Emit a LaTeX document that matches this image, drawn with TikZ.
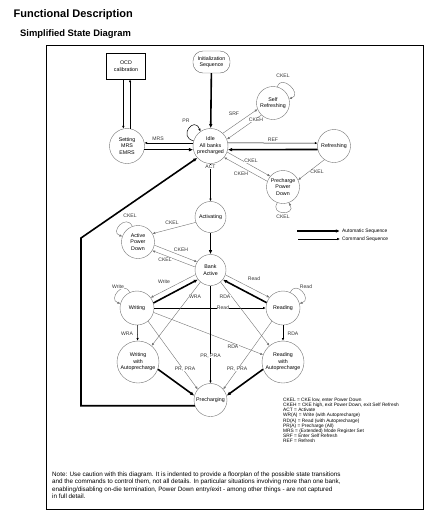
\documentclass[tikz,border=0pt]{standalone}
\usepackage{fontspec}
\setmainfont{Liberation Sans}
\usepackage{tikz}
\usetikzlibrary{positioning,arrows.meta}
\newcommand{\nodefont}{\fontsize{5.3}{6.4}\selectfont}
\newcommand{\lblfont}{\fontsize{5.1}{6}\selectfont}
\tikzset{
  autoarrow/.style={-{Latex[length=4.2pt,width=3.6pt]}, line width=1.6pt},
  cmdarrow/.style={-{Latex[length=2.8pt,width=2.4pt]}, line width=0.5pt},
  liteline/.style={-{Latex[length=2.8pt,width=2.4pt]}, line width=0.4pt, draw=black!55},
  stnode/.style={circle, draw=black!55, line width=0.4pt, inner sep=0pt, align=center, font=\nodefont},
  initbox/.style={draw=black!60, rounded corners=10pt, line width=0.4pt, minimum width=37pt, minimum height=22pt, align=center, font=\nodefont},
  calbox/.style={draw, line width=0.7pt, minimum width=39pt, minimum height=26pt, align=center, font=\nodefont},
  cmdlabel/.style={font=\lblfont, text=black!80, fill=white, inner sep=0.4pt},
  legendtext/.style={font=\fontsize{4.9}{5.5}\selectfont, inner sep=2pt}
}

\begin{document}
\begin{tikzpicture}[x=1pt, y=-1pt, >=Latex, every node/.style={font=\nodefont}]
  \useasboundingbox (0,0) rectangle (437,520);
  \node[anchor=base west, font=\bfseries\fontsize{11}{13}\selectfont, inner sep=0pt] (title) at (13.5,17) {Functional Description};
  \node[anchor=base west, font=\bfseries\fontsize{9.4}{11}\selectfont, inner sep=0pt] (subtitle) at (20,36) {Simplified State Diagram};
  \draw[line width=0.7pt] (46.5,45) rectangle (423,509);

  % states
  \node[initbox] (init) at (211.5,62) {Initialization\\Sequence};
  \node[calbox] (ocd) at (126,66) {OCD\\calibration};
  \node[stnode, minimum size=35pt] (mrs) at (127,146) {Setting\\MRS\\EMRS};
  \node[stnode, minimum size=35pt] (idle) at (210.5,146) {Idle\\All banks\\precharged};
  \node[stnode, minimum size=33pt] (selfref) at (273,103) {Self\\Refreshing};
  \node[stnode, minimum size=33pt] (refr) at (334,146) {Refreshing};
  \node[stnode, minimum size=33pt] (ppd) at (283,187) {Precharge\\Power\\Down};
  \node[stnode, minimum size=31pt] (actv) at (210.5,217) {Activating};
  \node[stnode, minimum size=33pt] (apd) at (138,242) {Active\\Power\\Down};
  \node[stnode, minimum size=31pt] (bank) at (210.5,270) {Bank\\Active};
  \node[stnode, minimum size=34pt] (wr) at (137,308) {Writing};
  \node[stnode, minimum size=34pt] (rd) at (283,308) {Reading};
  \node[stnode, minimum size=42pt] (wrap) at (138,362) {Writing\\with\\Autoprecharge};
  \node[stnode, minimum size=42pt] (rdap) at (283,362) {Reading\\with\\Autoprecharge};
  \node[stnode, minimum size=33pt] (prech) at (210.5,400) {Precharging};

  % automatic sequences
  \draw[autoarrow] (init) -- (idle);
  \draw[autoarrow] (mrs.-12) -- (idle.192);
  \draw[autoarrow] (refr.192) -- (idle.-12);
  \draw[autoarrow] (actv) -- (bank);
  \draw[autoarrow] (wr.17) -- (bank.217);
  \draw[autoarrow] (rd.162) -- (bank.-38);
  \draw[autoarrow] (wrap.-20) -- (prech.165);
  \draw[autoarrow] (rdap.200) -- (prech.15);
  \coordinate (retbend) at (81,238);
  \draw[autoarrow] (prech.200) -| (retbend) -- (idle.222);

  % command sequences
  \draw[cmdarrow] (idle.170) -- (mrs.10);
  \draw[cmdarrow] (ocd.south -| mrs.102) -- (mrs.102);
  \draw[cmdarrow] (mrs.80) -- (mrs.80 |- ocd.south);
  \draw[cmdarrow] (idle.163) .. controls +(-16,-4) and +(-6,-16) .. (idle.125);
  \draw[liteline] (idle.46) -- (selfref.202);
  \draw[liteline] (selfref.226) -- (idle.22);
  \draw[liteline] (selfref.75) .. controls +(4,-14) and +(14,-4) .. (selfref.15);
  \draw[cmdarrow] (idle.10) -- (refr.170);
  \draw[liteline] (idle.-20) -- (ppd.140);
  \draw[liteline] (ppd.160) -- (idle.-40);
  \draw[liteline] (refr.235) -- (ppd.25);
  \draw[liteline] (ppd.250) .. controls +(-8,13) and +(8,13) .. (ppd.290);
  \draw[cmdarrow] (idle) -- (actv);
  \draw[liteline] (actv.200) -- (apd.30);
  \draw[liteline] (apd.110) .. controls +(-6,-13) and +(-13,-4) .. (apd.160);
  \draw[liteline] (apd.-11) -- (bank.149);
  \draw[liteline] (bank.169) -- (apd.-31);
  \draw[liteline] (bank.197) -- (wr.37);
  \draw[liteline] (bank.-18) -- (rd.142);
  \draw[liteline] (wr.115) .. controls +(-6,-13) and +(-13,-4) .. (wr.165);
  \draw[liteline] (rd.65) .. controls +(6,-13) and +(13,-4) .. (rd.15);
  \draw[cmdarrow] (wr) -- (rd);
  \draw[cmdarrow] (wr) -- (wrap);
  \draw[cmdarrow] (rd) -- (rdap);
  \draw[liteline] (bank.230) -- (wrap.50);
  \draw[liteline] (bank.-50) -- (rdap.130);
  \draw[liteline] (wr.-15) -- (rdap.160);
  \draw[liteline] (wr.-50) -- (prech.140);
  \draw[liteline] (rd.230) -- (prech.40);
  \draw[cmdarrow] (bank) -- (prech);

  % labels
  \node[cmdlabel] (lpr) at (186,121) {PR};
  \node[cmdlabel] (lmrs) at (158,139) {MRS};
  \node[cmdlabel] (lsrf) at (234,114) {SRF};
  \node[cmdlabel] (lckehs) at (256,120) {CKEH};
  \node[cmdlabel] (lckels) at (283,76) {CKEL};
  \node[cmdlabel] (lref) at (273,140) {REF};
  \node[cmdlabel] (lckelp) at (251,161) {CKEL};
  \node[cmdlabel] (lckehp) at (241,174) {CKEH};
  \node[cmdlabel] (lckelr) at (317,172) {CKEL};
  \node[cmdlabel] (lckelpd) at (283,217) {CKEL};
  \node[cmdlabel] (lact) at (210.5,167) {ACT};
  \node[cmdlabel] (lckela) at (172,223) {CKEL};
  \node[cmdlabel] (lckelad) at (130,216) {CKEL};
  \node[cmdlabel] (lckehb) at (181,250) {CKEH};
  \node[cmdlabel] (lckelb) at (165,260) {CKEL};
  \node[cmdlabel] (lwrite) at (164,282) {Write};
  \node[cmdlabel] (lread) at (254,279) {Read};
  \node[cmdlabel] (lwloop) at (118,287) {Write};
  \node[cmdlabel] (lrloop) at (306,287) {Read};
  \node[cmdlabel] (lwrab) at (195,297) {WRA};
  \node[cmdlabel] (lrdab) at (225,297) {RDA};
  \node[cmdlabel] (lrdwr) at (223,308) {Read};
  \node[cmdlabel] (lwra) at (127,334) {WRA};
  \node[cmdlabel] (lrda) at (293,334) {RDA};
  \node[cmdlabel] (lrdaw) at (233,347) {RDA};
  \node[cmdlabel] (lprb) at (210.5,356) {PR, PRA};
  \node[cmdlabel] (lprw) at (185,369) {PR, PRA};
  \node[cmdlabel] (lprr) at (237,369) {PR, PRA};

  % legend
  \coordinate (autostart) at (297,231);
  \coordinate (cmdstart) at (298,239);
  \node[legendtext, anchor=west] (autolegend) at (340,231) {Automatic Sequence};
  \node[legendtext, anchor=west] (cmdlegend) at (340,239) {Command Sequence};
  \draw[autoarrow, line width=1.4pt] (autostart) -- (autolegend.west);
  \draw[cmdarrow] (cmdstart) -- (cmdlegend.west);

  \node[anchor=north west, align=left, inner sep=0pt, font=\fontsize{4.8}{5.1}\selectfont] (abbrev) at (283,398)
    {CKEL = CKE low, enter Power Down\\
     CKEH = CKE high, exit Power Down, exit Self Refresh\\
     ACT = Activate\\
     WR(A) = Write (with Autoprecharge)\\
     RD(A) = Read (with Autoprecharge)\\
     PR(A) = Precharge (All)\\
     MRS = (Extended) Mode Register Set\\
     SRF = Enter Self Refresh\\
     REF = Refresh};

  \node[anchor=north west, align=left, inner sep=0pt, font=\fontsize{6.3}{7.5}\selectfont] (note) at (52,471.5)
    {Note: Use caution with this diagram. It is indented to provide a floorplan of the possible state transitions\\
     and the commands to control them, not all details. In particular situations involving more than one bank,\\
     enabling/disabling on-die termination, Power Down entry/exit - among other things - are not captured\\
     in full detail.};
\end{tikzpicture}
\end{document}
